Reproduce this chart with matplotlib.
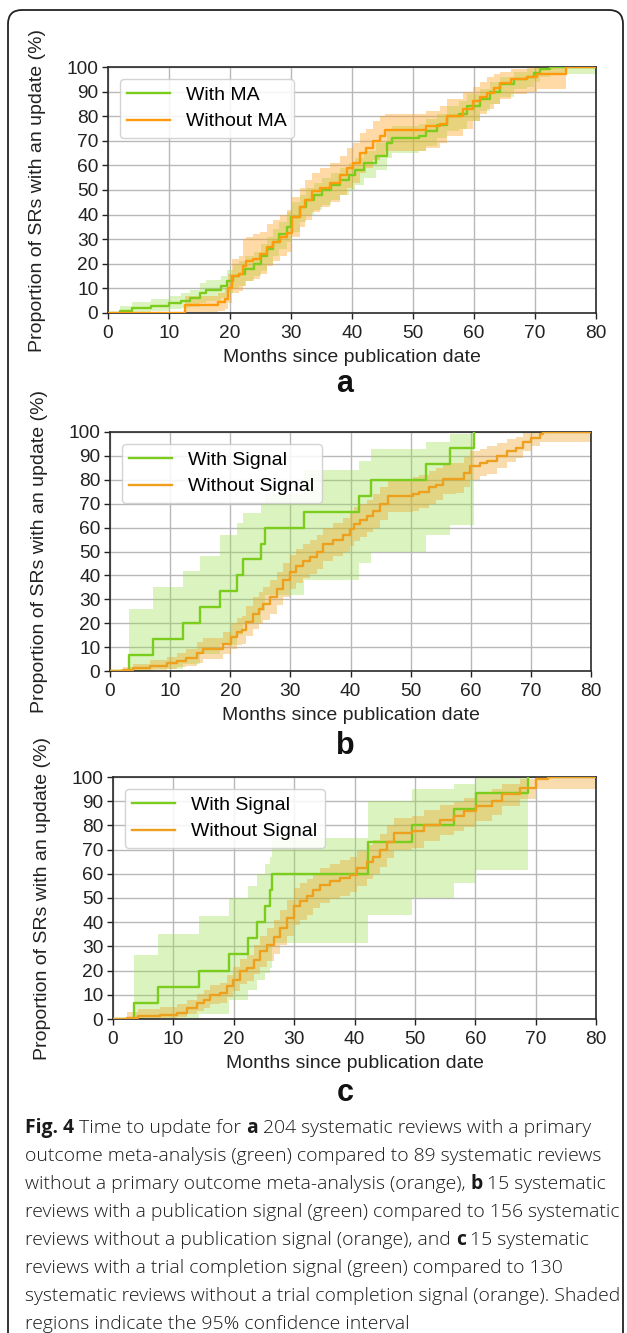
import matplotlib
matplotlib.use("Agg")
import matplotlib.pyplot as plt
from matplotlib.patches import FancyBboxPatch
from matplotlib.transforms import IdentityTransform

# ---- panel a: with / without primary outcome meta-analysis
a_ma_t = [0, 2, 4, 7, 10, 12, 13.5, 15, 16, 18.5, 19.5, 20.5, 21.5, 22.5, 24, 25, 26, 27, 28, 29.3,
          30, 31.5, 32.5, 33.7, 35, 36.5, 38, 39.5, 40.5, 42, 44, 45.7, 46.5, 51, 52.2, 54, 55.5, 57.5,
          58.8, 61, 62.6, 64.3, 66.5, 68.7, 69.8, 70.8, 72.5, 80]
a_ma_s = [0, 1, 2, 3, 4, 5, 6, 8, 9.5, 11, 13, 15, 16, 18, 20, 23, 26, 29, 32, 35,
          39, 43, 46, 48, 50, 52, 54, 56, 58, 61, 64, 69, 71, 72, 74, 76.5, 80, 81,
          84, 87, 90, 93, 95, 96, 97.5, 99, 100, 100]
a_ma_lo = [0, 0, 0.5, 1, 1.5, 2, 2.5, 4, 5, 6, 8, 10, 11, 13, 15, 17, 20, 23, 26, 29,
           33, 37, 40, 42, 44, 46, 48, 50, 52, 55, 58, 63, 65, 66, 68, 71, 74, 75,
           78, 82, 85, 88, 91, 92, 94, 96, 97, 97]
a_ma_hi = [0, 3, 4.5, 5.5, 7, 8, 9.5, 12, 13.5, 15, 17.5, 19.5, 21, 23, 25, 28, 31, 34, 37, 41,
           45, 48, 51, 53, 55, 57, 59, 61, 63, 66, 69, 74, 76, 77, 79, 81, 84, 86,
           89, 91, 94, 96, 98, 99, 100, 100, 100, 100]

a_nm_t = [0, 12.6, 18.1, 19.2, 19.7, 20.3, 21.4, 22.2, 22.7, 23.8, 24.9, 26, 27.1, 28.2, 29.3,
          30.1, 31.5, 32.3, 33.4, 34.8, 36.4, 38, 39.1, 40.2, 41.3, 42.3, 43.5, 44.6, 45.4, 52.2,
          54.4, 55.5, 58.2, 59.9, 61, 62.1, 63.2, 64.3, 66, 68.7, 70.3, 75, 80]
a_nm_s = [0, 3.4, 4.5, 5.7, 10, 15, 16, 19, 21, 22, 24, 27, 29, 31, 32.5,
          39, 43, 46, 49.5, 51, 53, 56, 59, 61, 65, 67, 70, 72, 74.5, 76,
          77, 80, 83, 86, 88, 89.5, 91.5, 93.5, 95, 96, 97, 100, 100]
a_nm_lo = [0, 0.5, 1, 1.5, 4, 8, 9, 11, 13, 14, 16, 19, 21, 23, 25,
           31, 35, 38, 41, 43, 45, 48, 51, 53, 57, 59, 62, 64, 66, 67,
           69, 72, 75, 78, 81, 83, 85, 87, 89, 90, 91, 100, 100]
a_nm_hi = [0, 7, 8, 10, 16, 22, 23, 30, 31, 32, 33, 36, 38, 40, 42,
           47, 51, 54, 57, 59, 61, 64, 67, 69, 73, 75, 78, 80, 81, 82,
           84, 87, 90, 92, 94, 96, 97, 98, 99, 100, 100, 100, 100]

# ---- panel b: with / without publication signal
b_sig_t = [0, 3.2, 7.2, 12.1, 15.0, 18.3, 21.2, 22.2, 25.1, 25.7, 32.3, 41.4, 43.4, 52.5, 56.5, 60.6]
b_sig_s = [0, 6.7, 13.3, 20, 26.7, 33.3, 40, 46.7, 53.3, 60, 66.7, 73.3, 80, 86.7, 93.3, 100]
b_sig_lo = [0, 0, 1, 3, 7, 11, 15, 20, 25, 32, 38, 45, 50, 57, 61, 100]
b_sig_hi = [0, 26, 35, 42, 48, 57, 62, 66, 70, 74, 84, 88, 93, 96, 99, 100]

b_no_t = [0, 2.2, 3.9, 6.7, 9.4, 11.1, 12.7, 14.4, 15.5, 18.0, 18.8, 20.2, 21.1, 21.9, 22.7,
          23.8, 24.7, 25.5, 26.6, 27.7, 28.8, 29.9, 31.0, 32.1, 33.3, 34.4, 35.5, 37.1, 38.8, 39.9,
          40.5, 41.6, 42.7, 43.8, 44.9, 46.3, 50.4, 51.4, 53.0, 54.2, 55.4, 57.5, 58.8, 59.9, 61.5,
          62.7, 64.3, 66.0, 67.6, 68.7, 70.1, 71.5, 72.0, 80]
b_no_s = [0, 0.6, 1.4, 2.2, 3.2, 4.2, 5.3, 7.4, 9.2, 9.4, 11.5, 14.3, 16.4, 17, 20.5,
          24, 26, 28, 31, 34.4, 38, 41.4, 44, 46, 47.6, 49.7, 53, 55, 57, 59.4,
          61.5, 63, 64.7, 67, 70, 73.3, 74, 75, 76.8, 78, 80.3, 80.5, 83, 85.8, 87,
          88, 90, 92, 93.5, 96, 97.6, 99, 100, 100]
b_no_lo = [0, 0, 0, 0.5, 1, 1.5, 2, 3.5, 5, 5.2, 7, 9, 11, 11.5, 14.5,
           17.5, 19.5, 21.5, 24, 27.5, 31, 34.5, 37, 39, 40.5, 42.5, 46, 48, 50, 52.5,
           54.5, 56, 58, 60, 63, 66.5, 67, 68, 70, 71.5, 74, 74.5, 77, 80, 81.5,
           82.5, 85, 87.5, 89, 92, 94, 96, 96, 96]
b_no_hi = [0, 1.5, 3, 4.5, 6, 7.5, 9, 12, 14, 14, 16.5, 20, 22, 23, 27,
           31, 33, 35, 38, 41.5, 45, 48.5, 51, 53, 55, 57, 60, 62, 64, 66.5,
           68.5, 70, 71.5, 74, 77, 80, 81, 82, 83.5, 85, 87, 87, 89.5, 92, 93,
           94, 95.5, 97, 98, 99.5, 100, 100, 100, 100]

# ---- panel c: with / without trial completion signal
c_sig_t = [0, 3.4, 7.5, 14.3, 19.2, 22.3, 23.8, 25.1, 26.0, 26.3, 42.3, 49.5, 56.5, 60.1, 68.7]
c_sig_s = [0, 6.7, 13.3, 20, 26.7, 33.3, 40, 46.7, 53.3, 60, 73.3, 80, 86.7, 93.3, 100]
c_sig_lo = [0, 0, 0.5, 2, 8, 12, 16, 19, 21, 31.4, 43, 50, 56, 61.5, 100]
c_sig_hi = [0, 26.6, 35, 42.7, 50, 55, 60, 64, 67, 75, 90, 95, 97, 99.5, 100]

c_no_t = [0, 2.3, 4.2, 7.8, 10.6, 12.2, 13.9, 15.0, 16.1, 17.7, 18.8, 19.9, 21.0, 22.2, 23.3,
          24.4, 25.5, 26.6, 27.7, 28.8, 29.9, 31.0, 32.1, 33.2, 34.3, 36.0, 37.6, 39.3, 40.4, 42.0,
          43.1, 44.3, 45.4, 46.5, 49.5, 51.5, 54.1, 56.5, 58.1, 60.1, 62.7, 64.5, 67.4, 70.0, 72.0, 80]
c_no_s = [0, 0.5, 1.1, 1.8, 2.5, 4.5, 6.6, 8, 10, 10.7, 13.5, 16.3, 19.7, 21, 24.5,
          28, 30.7, 34, 37.6, 41.7, 46.5, 48.6, 50.7, 53.4, 55.5, 56.9, 58.3, 59.6, 62.3, 65,
          67, 69.8, 73.3, 76.9, 77.5, 80, 82.4, 83.7, 85.8, 88, 90, 93, 95.6, 99, 100, 100]
c_no_lo = [0, 0, 0, 0.3, 0.8, 2, 3.5, 4.5, 6, 6.5, 9, 11.5, 14.5, 15.5, 18.5,
           21.5, 24, 27, 30.5, 34.5, 39, 41, 43, 46, 48, 49.5, 51, 52.5, 55, 58,
           60, 63, 66.5, 70, 70.5, 73.5, 76, 77.5, 79.5, 82, 84.5, 88, 91, 95, 95, 95]
c_no_hi = [0, 3, 4, 5, 6, 8, 10.5, 12, 14, 15, 18, 21.5, 25, 26.5, 30.5,
           34.5, 37.5, 41, 45, 49, 54, 56, 58, 60.5, 62.5, 64, 65.5, 67, 69.5, 72,
           74, 76.5, 80, 83, 84, 86.5, 88.5, 89.5, 91.5, 93.5, 95, 97, 99, 100, 100, 100]

legend_a = ["With MA", "Without MA"]
legend_bc = ["With Signal", "Without Signal"]
panel_letters = ["a", "b", "c"]
x_label = "Months since publication date"
y_label = "Proportion of SRs with an update (%)"

caption_lines = [
    [("Fig. 4", True), (" Time to update for ", False), ("a", True),
     (" 204 systematic reviews with a primary", False)],
    [("outcome meta-analysis (green) compared to 89 systematic reviews", False)],
    [("without a primary outcome meta-analysis (orange), ", False), ("b", True),
     (" 15 systematic", False)],
    [("reviews with a publication signal (green) compared to 156 systematic", False)],
    [("reviews without a publication signal (orange), and ", False), ("c", True),
     (" 15 systematic", False)],
    [("reviews with a trial completion signal (green) compared to 130", False)],
    [("systematic reviews without a trial completion signal (orange). Shaded", False)],
    [("regions indicate the 95% confidence interval", False)],
]

W, H = 627, 1333
GREEN = "#7acd1c"
GREEN_FILL = "#98df45"
ORANGE_A = "#ff9a0c"
ORANGE_BC = "#eda01e"

plt.rcParams["font.family"] = ["Liberation Sans", "DejaVu Sans"]

fig = plt.figure(figsize=(W / 100, H / 100), dpi=100)


def add_axes_px(left, right, top, bottom):
    return fig.add_axes([left / W, 1 - bottom / H, (right - left) / W, (bottom - top) / H])


def draw_panel(ax, green, orange, orange_color, labels, letter, letter_y):
    for (t, s, lo, hi), fc, alpha in [(green, GREEN_FILL, 0.34), (orange, orange_color, 0.36)]:
        ax.fill_between(t, lo, hi, step="post", color=fc, alpha=alpha, lw=0, zorder=2)
    ax.step(green[0], green[1], where="post", color=GREEN, lw=1.7, label=labels[0], zorder=3)
    ax.step(orange[0], orange[1], where="post", color=orange_color, lw=1.7, label=labels[1], zorder=4)

    ax.set_xlim(0, 80)
    ax.set_ylim(0, 100)
    ax.set_xticks(range(0, 81, 10))
    ax.set_yticks(range(0, 101, 10))
    ax.grid(True, color="#b8b8b8", lw=1.0)
    ax.set_axisbelow(True)
    for sp in ax.spines.values():
        sp.set_color("#2a2a2a")
        sp.set_linewidth(1.2)
    ax.tick_params(direction="out", length=4, width=1, colors="#222222",
                   labelsize=13.8, pad=3)
    ax.tick_params(axis="x", pad=5)
    ax.set_xlabel(x_label, fontsize=14, color="#222222", labelpad=5)
    ax.set_ylabel(y_label, fontsize=14, color="#222222")
    ax.yaxis.set_label_coords(-0.128, 0.5)
    ax.legend(loc="upper left", fontsize=14, frameon=True, fancybox=True,
              edgecolor="#cccccc", framealpha=0.85, handlelength=2.2,
              borderaxespad=0.6, labelspacing=0.45)
    fig.text(0.55, 1 - letter_y / H, letter, fontsize=22, fontweight="bold",
             ha="center", va="center", color="#111111")


ax_a = add_axes_px(108, 596, 67, 313)
draw_panel(ax_a, (a_ma_t, a_ma_s, a_ma_lo, a_ma_hi), (a_nm_t, a_nm_s, a_nm_lo, a_nm_hi),
           ORANGE_A, legend_a, panel_letters[0], 384)

ax_b = add_axes_px(110, 591, 432, 671)
draw_panel(ax_b, (b_sig_t, b_sig_s, b_sig_lo, b_sig_hi), (b_no_t, b_no_s, b_no_lo, b_no_hi),
           ORANGE_BC, legend_bc, panel_letters[1], 746)

ax_c = add_axes_px(113, 596, 777, 1019)
draw_panel(ax_c, (c_sig_t, c_sig_s, c_sig_lo, c_sig_hi), (c_no_t, c_no_s, c_no_lo, c_no_hi),
           ORANGE_BC, legend_bc, panel_letters[2], 1093)

# caption, drawn segment by segment so bold pieces sit inline
CAP_FONT = ["Open Sans", "DejaVu Sans"]
renderer = fig.canvas.get_renderer()


def text_width(s, weight, size):
    t = fig.text(0, 0, s, fontsize=size, fontweight=weight, family=CAP_FONT)
    w = t.get_window_extent(renderer).width
    t.remove()
    return w


def seg_width(s, weight, size):
    return text_width("x" + s + "x", weight, size) - text_width("xx", weight, size)


cap_size = 12.0
longest = "".join(s for s, _ in caption_lines[3])
cap_size *= 592 / seg_width(longest, "light", cap_size)

x0, y0, dy = 25, 1128, 28.0
for i, line in enumerate(caption_lines):
    x = x0
    y = y0 + i * dy
    for s, bold in line:
        weight = "bold" if bold else "light"
        fig.text(x / W, 1 - y / H, s, fontsize=cap_size, fontweight=weight, family=CAP_FONT,
                 ha="left", va="center", color="#1a1a1a")
        x += seg_width(s, weight, cap_size)

frame = FancyBboxPatch((8, -30), 615, 1323 + 30, boxstyle="round,pad=0,rounding_size=14",
                       fc="none", ec="#222222", lw=1.3, transform=IdentityTransform())
fig.add_artist(frame)

fig.savefig("out.png", dpi=100)
